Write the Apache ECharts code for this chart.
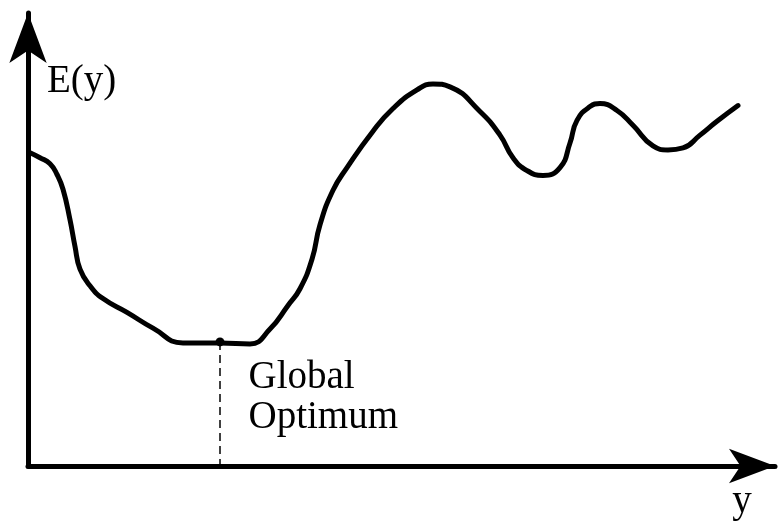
<!DOCTYPE html>
<html>
<head>
<meta charset="utf-8">
<script src="https://cdn.jsdelivr.net/npm/echarts@6/dist/echarts.min.js"></script>
<style>html,body{margin:0;padding:0;background:#fff;}#c{width:780px;height:521px;}</style>
</head>
<body>
<div id="c"></div>
<script>
// Curve E(y): x positions and values (arbitrary units)
const curveX = [2,12,22,29,35,42,47,52,62,75,99,125,155,192,222,242,260,272,284,292,305,319,345,365,389,405,422,452,472,485,499,515,532,542,549,562,572,589,605,625,640,655,672,689,710];
const curveY = [318,313,307,296,281,250,223,200,183,170,156,140,125,125,124,139,163,180,210,245,280,303,340,363,382,388,385,360,336,313,300,295,303,328,351,365,368,361,346,325,321,323,336,350,366];
const optimumX = 192;
const optimumY = 126;
const optimumLabel = 'Global\nOptimum';
const yAxisName = 'E(y)';
const xAxisName = 'y';

const curveData = curveX.map((x, i) => [x, curveY[i]]);
const serif = '"Liberation Serif", "DejaVu Serif", serif';

const chart = echarts.init(document.getElementById('c'), null, {renderer: 'canvas'});
chart.setOption({
  backgroundColor: '#fff',
  animation: false,
  grid: {left: 28, right: 5, top: 13, bottom: 48, containLabel: false},
  xAxis: {
    type: 'value', min: 0, max: 747,
    axisLine: {show: true, lineStyle: {color: '#000', width: 5}, symbol: ['none', 'arrow'], symbolSize: [26, 46]},
    axisTick: {show: false}, axisLabel: {show: false}, splitLine: {show: false},
    name: xAxisName, nameLocation: 'end', nameGap: -33,
    nameTextStyle: {fontFamily: serif, fontSize: 39, color: '#000', align: 'center', verticalAlign: 'top', padding: [16, 0, 0, 0]}
  },
  yAxis: {
    type: 'value', min: 0, max: 460,
    axisLine: {show: true, lineStyle: {color: '#000', width: 5}, symbol: ['none', 'arrow'], symbolSize: [28, 50]},
    axisTick: {show: false}, axisLabel: {show: false}, splitLine: {show: false},
    name: yAxisName, nameLocation: 'end', nameGap: -88,
    nameTextStyle: {fontFamily: serif, fontSize: 39, color: '#000', align: 'left', verticalAlign: 'bottom', padding: [0, 0, 0, 19]}
  },
  series: [
    {
      type: 'line', data: curveData, smooth: 0.5, showSymbol: false,
      lineStyle: {color: '#000', width: 5, cap: 'round', join: 'round'}, z: 3
    },
    {
      type: 'line', data: [[optimumX, optimumY], [optimumX, 0]], showSymbol: false,
      lineStyle: {color: '#000', width: 1.5, type: [8, 5]}, z: 2
    },
    {
      type: 'scatter', data: [[optimumX, optimumY]], symbolSize: 9,
      itemStyle: {color: '#000', opacity: 1}, z: 4,
      label: {show: true, formatter: optimumLabel, position: [33, 20], align: 'left', verticalAlign: 'top',
        fontFamily: serif, fontSize: 39, lineHeight: 40, color: '#000', opacity: 1, textBorderWidth: 0}
    }
  ]
});
</script>
</body>
</html>
